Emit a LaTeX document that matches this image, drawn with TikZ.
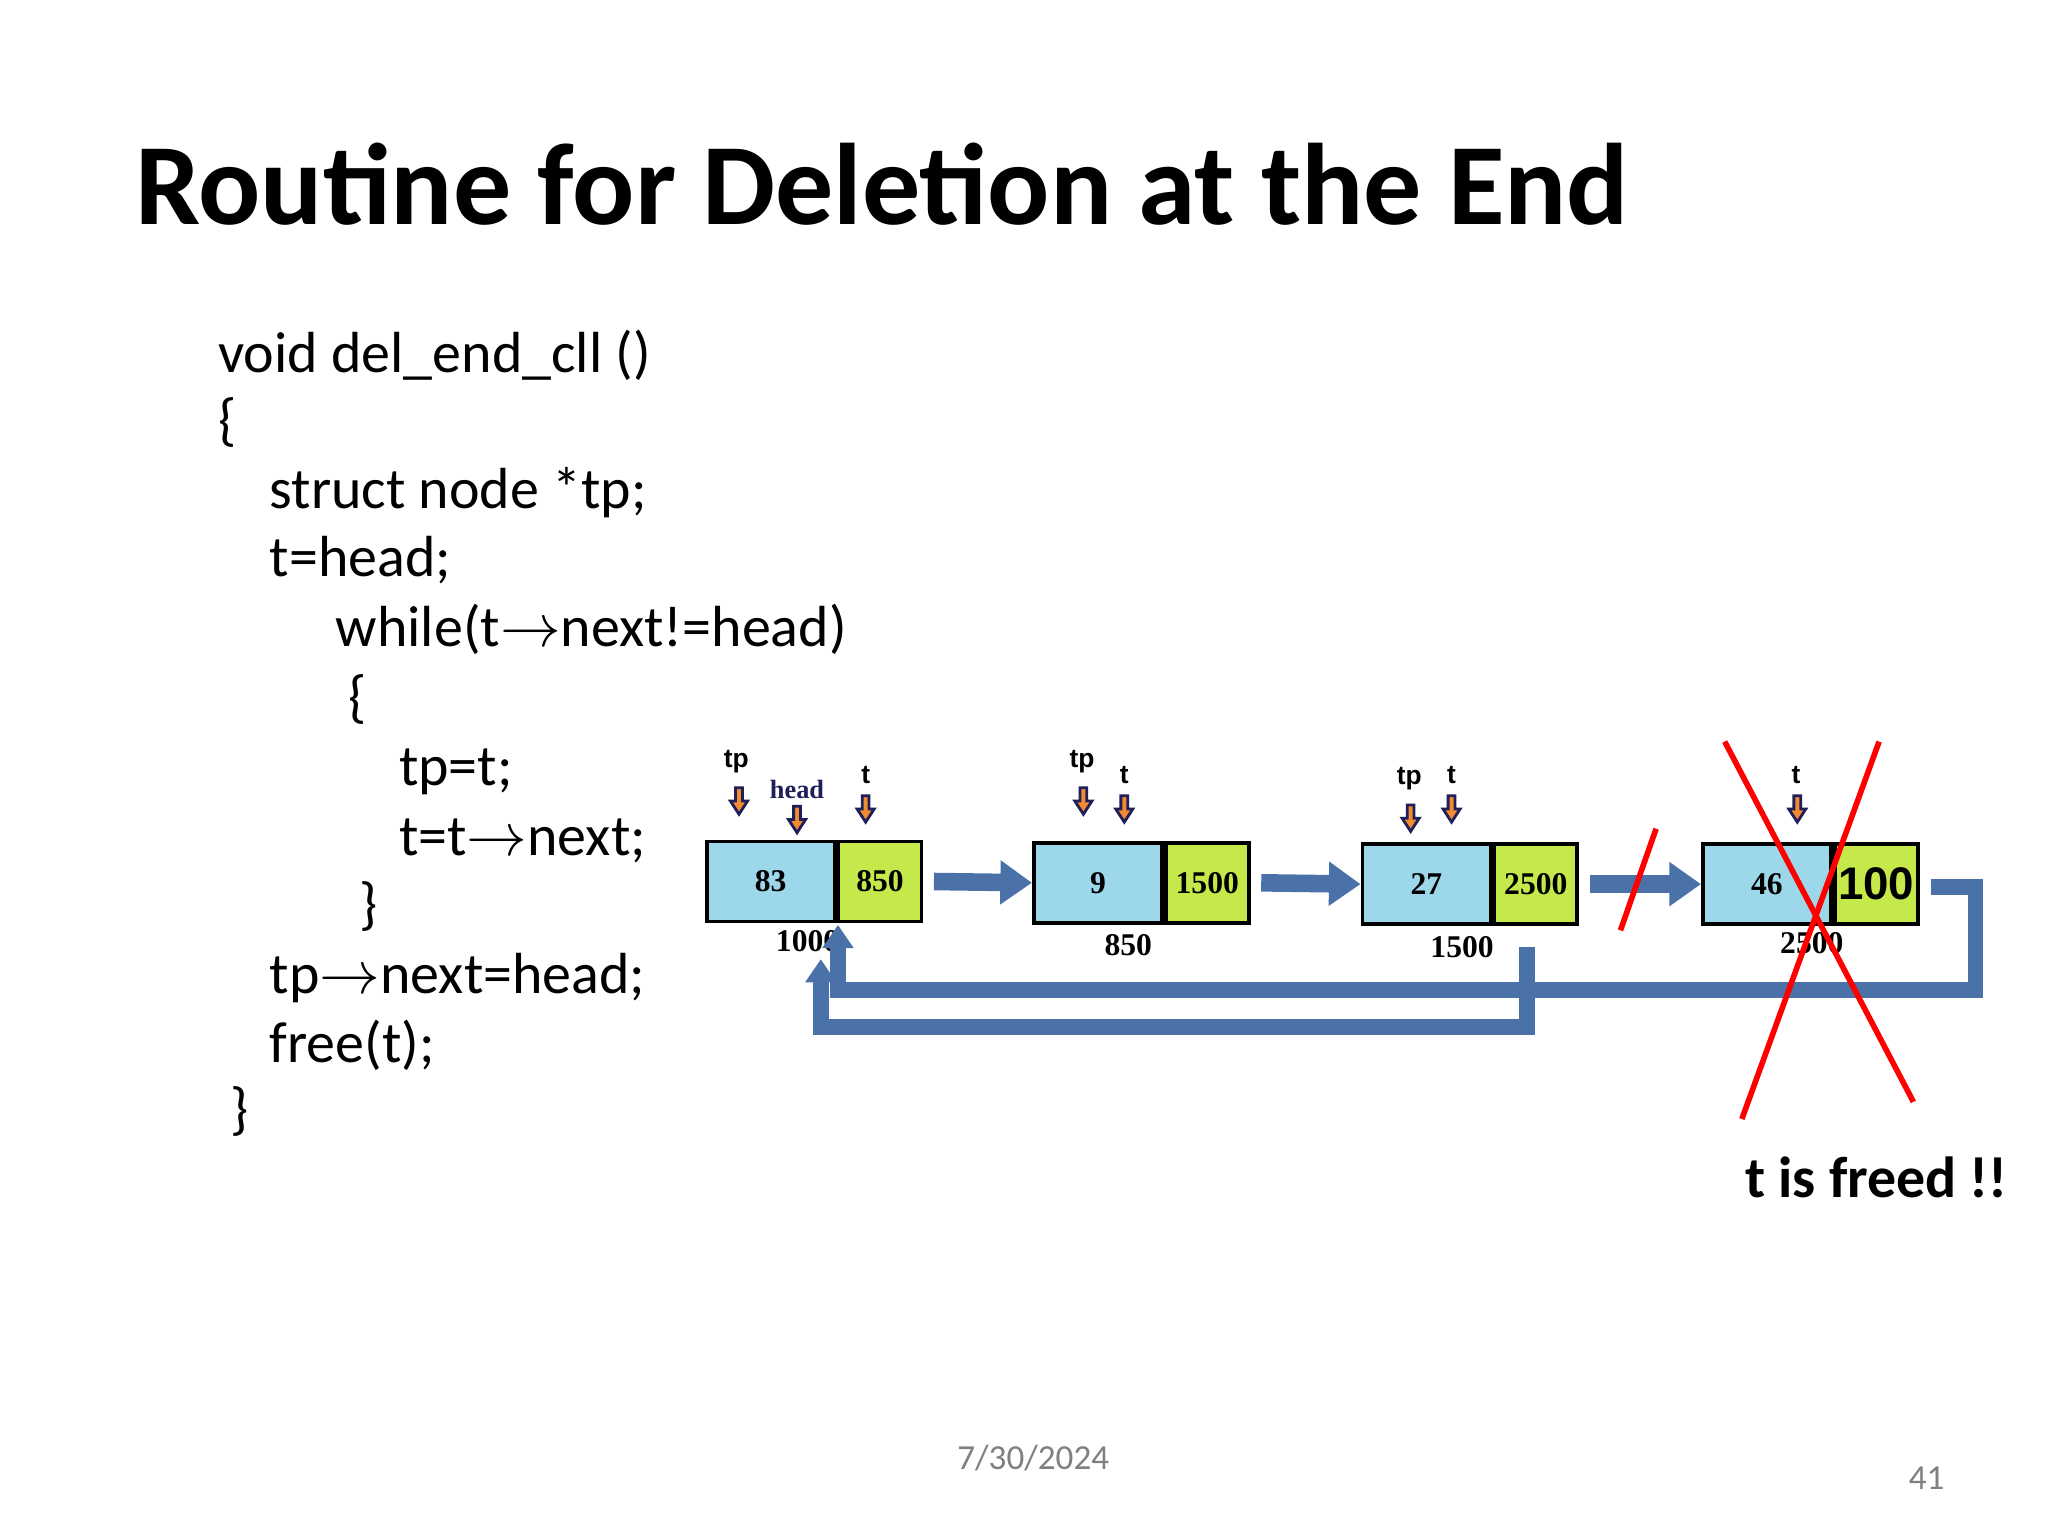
\documentclass[tikz,border=0pt]{standalone}
\usepackage{fontspec}
\setmainfont{Carlito}
\newfontfamily\tms{Liberation Serif}
\newfontfamily\ars{Liberation Sans}
\usetikzlibrary{arrows.meta}
\definecolor{cyanf}{HTML}{9DD8EA}
\definecolor{limef}{HTML}{C5E84A}
\definecolor{barb}{HTML}{4A72A8}
\definecolor{bard}{HTML}{35588A}
\definecolor{navy}{HTML}{1F1F5A}
\definecolor{orng}{HTML}{F28A30}
\newcommand{\rarr}{\ensuremath{\mathbf{\rightarrow}}}
\tikzset{
  cell/.style={draw=black,line width=1.1pt,minimum height=0.8cm,inner sep=0pt,font=\tms\bfseries\fontsize{9}{10}\selectfont},
  dat/.style={cell,fill=cyanf,minimum width=1.28cm},
  ptr/.style={cell,fill=limef,minimum width=0.83cm},
  addr/.style={font=\tms\bfseries\fontsize{9}{10}\selectfont},
  plab/.style={font=\ars\bfseries\fontsize{7.5}{8}\selectfont},
  link/.style={draw=barb,line width=5pt,-{Triangle[length=9pt,width=12pt]}},
  ret/.style={draw=barb,line width=4.5pt,line join=miter},
  xline/.style={draw=red,line width=1.6pt},
  code/.style={anchor=base west,font=\fontsize{16.5}{18}\selectfont},
  pics/dn/.style={code={\draw[navy,line width=0.8pt,fill=orng,line join=miter]
     (-2.6,-9)--(2.6,-9)--(2.6,1)--(6.5,1)--(0,11)--(-6.5,1)--(-2.6,1)--cycle;}}
}
\begin{document}
\begin{tikzpicture}[x=0.013196cm,y=-0.013196cm]
\useasboundingbox[fill=white] (0,0) rectangle (1552,1164);
\node[anchor=base west,font=\bfseries\fontsize{33}{36}\selectfont] (title) at (93,170) {Routine for Deletion at the End};
\node[code] (c1) at (156,282) {void del\_end\_cll ()};
\node[code] (c2) at (156,333) {\{};
\node[code] (c3) at (195,385) {struct node *tp;};
\node[code] (c4) at (195,437) {t=head;};
\node[code] (c5) at (245,490) {while(t\rarr next!=head)};
\node[code] (c6) at (255,543) {\{};
\node[code] (c7) at (293,595) {tp=t;};
\node[code] (c8) at (293,648) {t=t\rarr next;};
\node[code] (c9) at (263,700) {\}};
\node[code] (c10) at (195,753) {tp\rarr next=head;};
\node[code] (c11) at (195,805) {free(t);};
\node[code] (c12) at (165,855) {\}};
% nodes
\node[dat] (d1) at (584,668) {83};
\node[ptr,anchor=west] (p1) at (d1.east) {850};
\node[dat] (d2) at (832,669) {9};
\node[ptr,anchor=west] (p2) at (d2.east) {1500};
\node[dat] (d3) at (1081,670) {27};
\node[ptr,anchor=west] (p3) at (d3.east) {2500};
\node[dat] (d4) at (1339,670) {46};
\node[ptr,anchor=west,font=\ars\bfseries\fontsize{13}{14}\selectfont] (p4) at (d4.east) {100};
\node[addr] (a1) at (612,713) {1000};
\node[addr] (a2) at (855,716) {850};
\node[addr] (a3) at (1108,718) {1500};
\node[addr] (a4) at (1373,715) {2500};
% links
\draw[link] ([xshift=3pt]p1.east) -- (d2.west);
\draw[link] ([xshift=3pt]p2.east) -- (d3.west);
\draw[link] ([xshift=3pt]p3.east) -- (d4.west);
\coordinate (r1s) at (1463,672);
\coordinate (r1e) at (635,702);
\coordinate (r2s) at (1157,718);
\coordinate (r2e) at (622,728);
\draw[ret] (r1s) -- (1497,672) -- (1497,750) -- (635,750) -- (635,716);
\draw[ret] (r2s) -- (1157,778) -- (622,778) -- (622,742);
\draw[barb,fill=barb] (r1e) -- (646,718) -- (624,718) -- cycle;
\draw[barb,fill=barb] (r2e) -- (633,744) -- (611,744) -- cycle;
% pointer labels
\node[plab] (tp1) at (558,577) {tp}; \pic at (560,606) {dn};
\node[font=\tms\bfseries\fontsize{7.5}{8}\selectfont,text=navy] (hd) at (604,598) {head}; \pic at (604,620) {dn};
\node[plab] (t1) at (656,587) {t}; \pic at (656,612) {dn};
\node[plab] (tp2) at (820,577) {tp}; \pic at (821,606) {dn};
\node[plab] (t2) at (852,587) {t}; \pic at (852,612) {dn};
\node[plab] (tp3) at (1068,590) {tp}; \pic at (1069,619) {dn};
\node[plab] (t3) at (1100,587) {t}; \pic at (1100,612) {dn};
\node[plab] (t4) at (1361,587) {t}; \pic at (1362,612) {dn};
% red marks
\draw[xline] (1307,562) -- (1450,835);
\draw[xline] (1424,562) -- (1320,848);
\draw[xline] (1255,628) -- (1228,705);
\node[font=\bfseries\fontsize{16.5}{18}\selectfont] (fr) at (1422,892) {t is freed !!};
\node[font=\fontsize{10}{12}\selectfont,text=gray] (dt) at (783,1105) {7/30/2024};
\node[font=\fontsize{10}{12}\selectfont,text=gray] (pg) at (1460,1120) {41};
\end{tikzpicture}
\end{document}
